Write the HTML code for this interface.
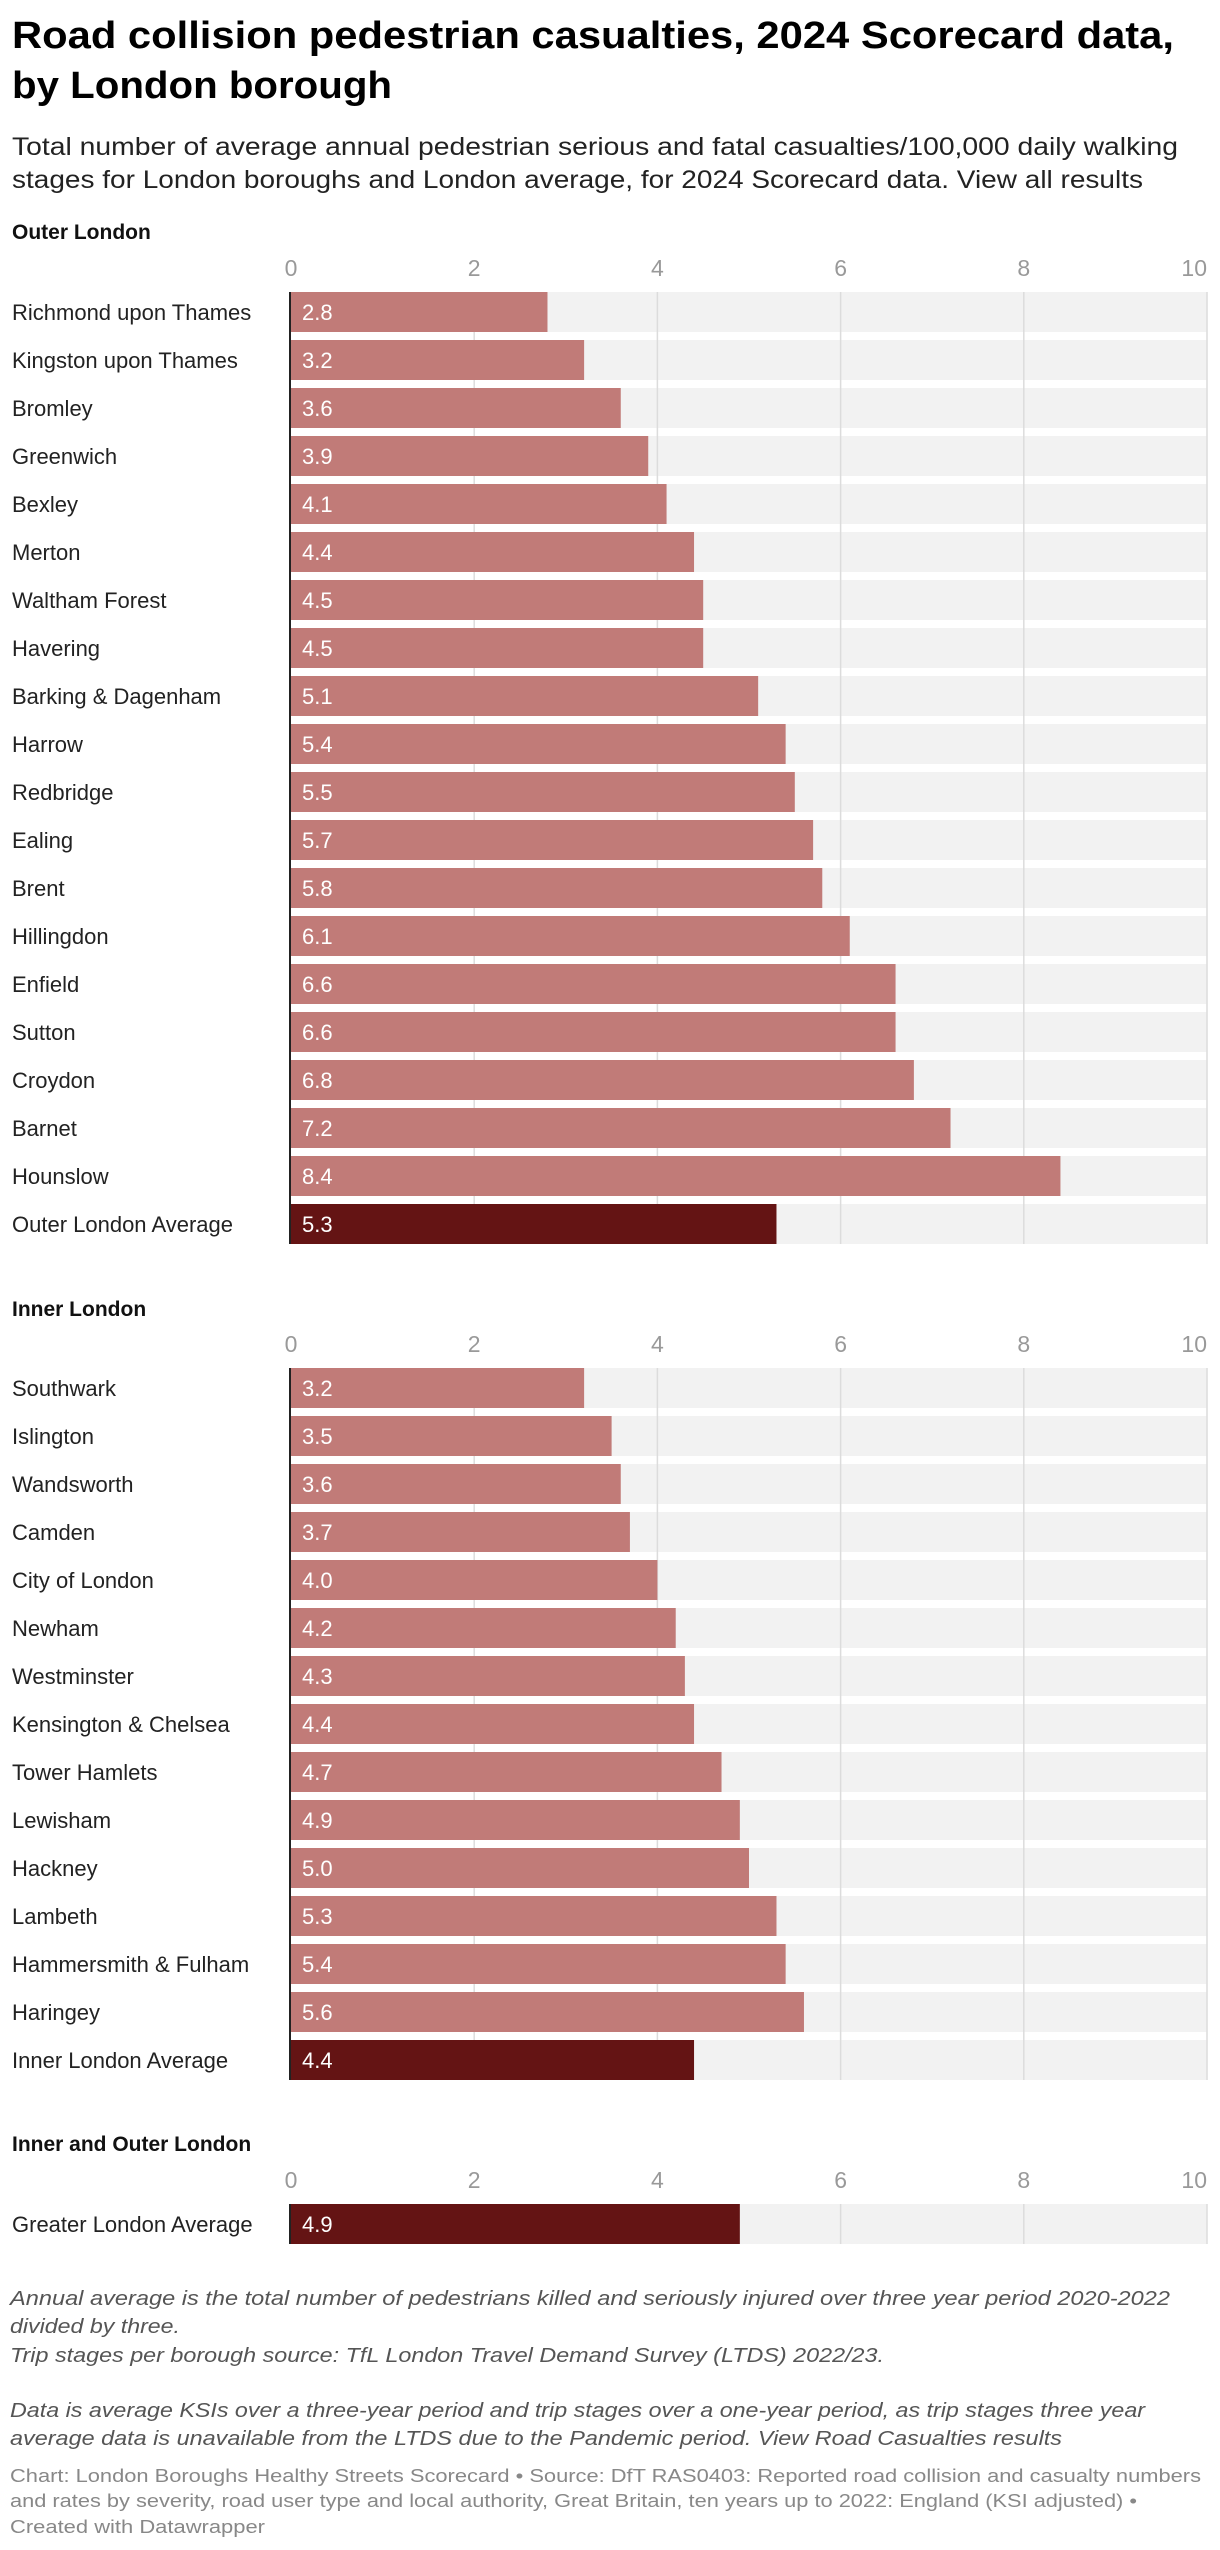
<!DOCTYPE html>
<html><head><meta charset="utf-8"><style>
html,body{margin:0;padding:0;background:#fff;}
svg{display:block;font-family:"Liberation Sans",Arial,sans-serif;}
</style></head><body>
<svg id="chart" width="1220" height="2550" viewBox="0 0 1220 2550">
<text x="12" y="48" font-size="38" font-weight="bold" fill="#000" textLength="1162" lengthAdjust="spacingAndGlyphs">Road collision pedestrian casualties, 2024 Scorecard data,</text>
<text x="12" y="98" font-size="38" font-weight="bold" fill="#000" textLength="380" lengthAdjust="spacingAndGlyphs">by London borough</text>
<text x="12" y="155" font-size="25" fill="#222" textLength="1166" lengthAdjust="spacingAndGlyphs">Total number of average annual pedestrian serious and fatal casualties/100,000 daily walking</text>
<text x="12" y="188" font-size="25" fill="#222" textLength="1131" lengthAdjust="spacingAndGlyphs">stages for London boroughs and London average, for 2024 Scorecard data. View all results</text>
<g id="plots"></g>
<g fill="#555" font-size="20" font-style="italic">
<text x="10" y="2305" textLength="1160" lengthAdjust="spacingAndGlyphs">Annual average is the total number of pedestrians killed and seriously injured over three year period 2020-2022</text>
<text x="10" y="2333" textLength="170" lengthAdjust="spacingAndGlyphs">divided by three.</text>
<text x="10" y="2362" textLength="874" lengthAdjust="spacingAndGlyphs">Trip stages per borough source: TfL London Travel Demand Survey (LTDS) 2022/23.</text>
<text x="10" y="2417" textLength="1135" lengthAdjust="spacingAndGlyphs">Data is average KSIs over a three-year period and trip stages over a one-year period, as trip stages three year</text>
<text x="10" y="2445" textLength="1052" lengthAdjust="spacingAndGlyphs">average data is unavailable from the LTDS due to the Pandemic period. View Road Casualties results</text>
</g>
<g fill="#888" font-size="18">
<text x="10" y="2482" textLength="1191" lengthAdjust="spacingAndGlyphs">Chart: London Boroughs Healthy Streets Scorecard • Source: DfT RAS0403: Reported road collision and casualty numbers</text>
<text x="10" y="2507" textLength="1127" lengthAdjust="spacingAndGlyphs">and rates by severity, road user type and local authority, Great Britain, ten years up to 2022: England (KSI adjusted) •</text>
<text x="10" y="2533" textLength="255" lengthAdjust="spacingAndGlyphs">Created with Datawrapper</text>
</g>
</svg>
<script>
const outerNames = ["Richmond upon Thames","Kingston upon Thames","Bromley","Greenwich","Bexley","Merton","Waltham Forest","Havering","Barking & Dagenham","Harrow","Redbridge","Ealing","Brent","Hillingdon","Enfield","Sutton","Croydon","Barnet","Hounslow","Outer London Average"];
const outerValues = [2.8,3.2,3.6,3.9,4.1,4.4,4.5,4.5,5.1,5.4,5.5,5.7,5.8,6.1,6.6,6.6,6.8,7.2,8.4,5.3];
const innerNames = ["Southwark","Islington","Wandsworth","Camden","City of London","Newham","Westminster","Kensington & Chelsea","Tower Hamlets","Lewisham","Hackney","Lambeth","Hammersmith & Fulham","Haringey","Inner London Average"];
const innerValues = [3.2,3.5,3.6,3.7,4.0,4.2,4.3,4.4,4.7,4.9,5.0,5.3,5.4,5.6,4.4];
const greaterNames = ["Greater London Average"];
const greaterValues = [4.9];
const ticks = [0,2,4,6,8,10];

const NS="http://www.w3.org/2000/svg";
const X0=291, XMAX=10, XW=916;
function xs(v){return X0+v/XMAX*XW;}
function mk(tag,attrs,parent){const e=document.createElementNS(NS,tag);for(const k in attrs)e.setAttribute(k,attrs[k]);parent.appendChild(e);return e;}
const root=document.getElementById('plots');

function section(title,titleY,tickY,top,names,values){
  const g=mk('g',{},root);
  
  
  const t=mk('text',{x:12,y:titleY,'font-size':21,'font-weight':'bold',fill:'#111'},g);
  t.textContent=title;
  
  
  ticks.forEach((v,i)=>{
    const tl=mk('text',{x:xs(v),y:tickY+8,'font-size':23,fill:'#999','text-anchor':i===ticks.length-1?'end':'middle'},g);
    tl.textContent=v;
    
    
  });
  const pitch=48,h=40;
  const bottom=top+(names.length-1)*pitch+h;
  names.forEach((n,i)=>{
    const y=top+i*pitch;
    const tr=mk('rect',{x:X0,y:y,width:XW,height:h,fill:'#f2f2f2'},g);
    
    
  });
  ticks.slice(1).forEach(v=>{
    const gl=mk('line',{x1:xs(v),x2:xs(v),y1:top,y2:bottom,stroke:'#dcdcdc','stroke-width':1.5},g);
    
    
  });
  names.forEach((n,i)=>{
    const y=top+i*pitch;
    const avg=/Average/.test(n);
    const lb=mk('text',{x:12,y:y+28,'font-size':22,fill:'#222'},g);
    lb.textContent=n;
    
    
    const b=mk('rect',{x:X0,y:y,width:xs(values[i])-X0,height:h,fill:avg?'#641414':'#c17b78'},g);
    
    
    const vl=mk('text',{x:X0+11,y:y+28,'font-size':22,fill:'#fff'},g);
    vl.textContent=values[i].toFixed(1);
    
    
  });
  const ax=mk('line',{x1:X0-1,x2:X0-1,y1:top,y2:bottom,stroke:'#222','stroke-width':2},g);
  
  
}
section('Outer London',239,268,292,outerNames,outerValues);
section('Inner London',1316,1344,1368,innerNames,innerValues);
section('Inner and Outer London',2151,2180,2204,greaterNames,greaterValues);
</script>
</body></html>
